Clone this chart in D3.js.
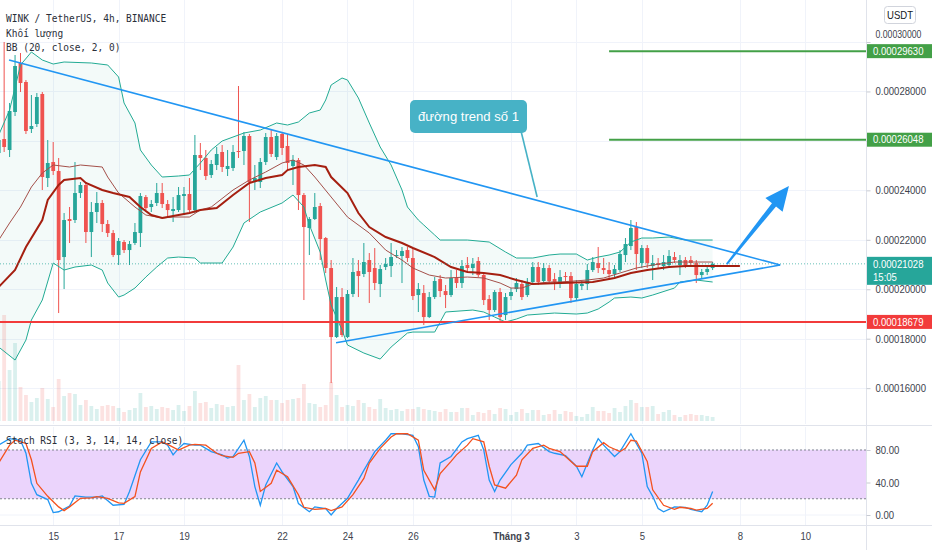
<!DOCTYPE html>
<html><head><meta charset="utf-8">
<script src="https://cdn.jsdelivr.net/npm/d3@7"></script>
<style>
html,body{margin:0;padding:0;background:#fff;}
svg{display:block;font-family:"Liberation Sans",Arial,sans-serif;}
</style></head><body>
<svg id="chart" width="932" height="550"></svg>
<script>
// ---------- DATA (prices in units of 1e-8 USDT) ----------
const UNIT = 1e-8;
const firstCandleUTC = "2021-02-13T08:00:00Z"; // 4h candles, index k = 0..131
const open = [25510,26076,25632,27169,29151,28382,26481,26683,27897,24499,
25146,24782,21303,22841,22800,23892,24216,22315,23124,23488,
22638,22274,21384,21910,21586,21870,22274,23730,23326,23488,
23892,23447,23164,23204,23771,23852,23204,25429,25308,24620,
25025,25551,24863,24903,25591,25591,26198,24378,24337,25146,
26157,25348,26279,25794,24984,25227,23811,22476,22841,23366,
22072,20858,18067,19685,18067,19807,20737,20616,21182,20858,
20211,20899,20939,21344,21344,21586,21263,19766,19847,18876,
19685,20413,19928,19766,20454,20252,20980,20858,21142,20575,
19604,19159,19888,18957,19726,20009,20211,19766,20292,20899,
20333,20858,20413,20211,20535,20535,19645,20130,20211,20777,
21061,20858,20777,20616,20777,21384,21748,22517,21061,21667,
20939,21061,20939,20980,21303,20980,21182,21182,21061,20575,
20697,20858];
const high = [26238,30000,27533,29474,29555,28463,27856,27937,27978,26036,
25955,25308,23083,23326,25146,24337,24297,23528,23933,23609,
22800,22395,22072,21991,21951,22679,23892,23811,23609,24297,
24297,23609,23730,24135,24135,24499,26238,25915,25632,25227,
25753,25834,25632,25834,28220,26359,26279,25025,25308,26319,
26440,26319,26359,26279,25429,25308,23892,22921,23892,23488,
22112,21182,20090,20049,19968,21263,21182,21870,21465,21667,
20980,21263,21870,21586,21708,21708,21667,20252,20171,19888,
20494,20575,20171,20777,20777,21182,21303,21263,21303,20656,
19766,19968,20049,19847,20049,20454,20373,20454,21101,21101,
21061,20980,20656,20777,20697,20697,20373,20333,21020,21303,
21708,21263,21101,20980,21586,22072,22800,22719,21789,21789,
21384,21263,21384,21586,21506,21384,21303,21344,21182,20818,
20980,21101];
const low = [25308,25551,25348,27007,27978,26279,26319,26562,24014,24135,
24620,19038,20009,21870,22679,23690,21870,21303,22679,22315,
22112,21303,20980,21465,20980,21789,21708,23204,23124,23366,
23285,22921,22719,23124,23002,23124,23083,24822,24418,24499,
24822,24742,24580,24782,25308,25025,22719,24014,24095,25025,
25348,25227,25429,24822,24216,23204,19564,21384,22800,21182,
20656,16207,18027,18067,18027,19685,19685,20494,19443,19968,
19685,20777,20494,21263,20252,21101,19564,19079,18553,18836,
19604,19685,19240,19685,20049,20049,20697,20575,20494,19362,
18755,19079,18674,18755,19564,19888,19564,19685,20211,20171,
20252,20252,19968,20049,20252,19443,19564,19968,19968,20697,
20656,20616,20373,20494,20697,21101,21586,20777,20858,20858,
20373,20858,20777,20899,21061,20575,20858,20939,20252,20454,
20575,20777];
const close = [26036,25753,27209,29029,28342,26400,26602,27775,24539,25106,
24782,21182,22800,22760,23892,24216,22315,23124,23488,22638,
22274,21384,21951,21586,21829,22315,23771,23285,23447,23892,
23447,23204,23245,23811,23852,23204,25429,25308,24580,25065,
25470,24944,24984,25551,25551,26198,24337,24499,25146,26157,
25470,26198,25713,25106,25227,23811,22517,22841,23326,22031,
20858,18067,19685,18148,19807,20697,20535,21101,20697,20252,
20818,21020,21303,21384,21546,21263,19726,20009,18876,19685,
20333,19928,19766,20454,20252,20939,20858,21020,20575,19564,
19159,19888,18876,19685,19888,20252,19685,20292,20899,20292,
20858,20333,20292,20494,20494,19645,20211,20211,20777,21101,
20858,20777,20616,20818,21425,21829,22476,21425,21667,21061,
21061,20980,21101,21344,21182,21182,20980,21061,20575,20697,
20818,21028];
// volume (relative units, millions)
const volume = [40,106,51,78,34,26,19,23,33,22,14,42,25,28,27,16,21,15,12,15,
16,15,13,9,11,13,28,14,15,12,14,13,11,16,10,15,30,18,19,13,
17,16,14,15,56,21,27,14,23,25,21,21,18,21,22,23,37,18,17,14,
16,39,26,14,16,15,21,18,14,12,22,13,11,12,10,12,12,14,12,11,
10,9,12,9,9,13,13,6,9,8,11,7,13,12,6,9,12,8,11,11,
6,7,11,7,10,9,5,4,7,14,10,10,8,13,9,15,21,18,14,14,
15,7,9,11,6,4,6,7,6,6,5,4];

// Bollinger Bands (20, close, 2) read at candle indices
const bbUpperIdx = [0,2,4,6,8,10,12,17,20,22,23,25,26,28,30,33,35,37,39,41,45,48,51,53,55,57,59,60,61,63,64,66,68,70,72,74,75,77,78,80,81,86,90,93,95,98,101,103,106,108,110,112,114,116,118,120,123,126,131];
const bbUpperVal = [26238,27249,29070,29596,29272,29110,29191,29151,29070,28584,27533,26724,25632,25025,24539,24580,24620,25106,25632,25995,26319,26440,26724,26643,26764,27128,27249,27654,28261,28544,28463,27735,26724,25753,25025,24014,23326,22800,22598,22193,21991,21991,21910,21506,21263,21263,21384,21425,21425,21182,21303,21384,21506,21910,22072,22072,22112,21991,21991];
const bbLowerIdx = [0,3,5,6,8,10,12,14,17,19,20,22,23,25,27,29,31,33,36,37,41,43,45,48,52,54,56,57,59,60,61,63,64,67,70,72,75,76,80,82,87,89,91,93,95,97,102,106,108,110,112,113,116,118,120,124,125,128,131];
const bbLowerVal = [17663,17137,17946,18755,19564,21061,20777,20899,20980,20777,20252,19685,19766,20049,20494,20899,21263,21303,21263,21061,21061,21708,22679,23124,23488,23811,23326,22600,21500,20373,19362,18350,17744,17420,17177,17663,18229,18269,18269,19079,19159,19079,18876,18674,18795,18957,19038,18998,19038,19200,19483,19645,19685,19645,19766,20049,20292,20373,20292];
const bbMidIdx = [0,2,4,6,8,10,13,15,19,20,22,25,27,30,32,35,37,39,43,46,49,52,54,56,58,61,64,68,71,74,76,79,82,86,89,92,94,96,98,101,103,108,111,114,117,120,124,126,131];
const bbMidVal = [21991,22679,23326,24135,24701,25025,24944,25025,24944,24539,23892,23326,23002,22881,22921,22921,23204,23326,24014,24418,24742,25106,25227,25025,24539,23730,22921,22274,21586,21182,20858,20575,20454,20494,20454,20252,20049,20049,20211,20292,20292,20373,20454,20656,20858,20980,21101,21101,21101];
// thick moving average line
const maIdx = [0,3,5,8,9,11,12,15,16,19,21,24,26,28,30,33,35,37,40,43,46,49,52,53,55,58,60,61,64,66,68,71,74,76,80,83,86,89,92,95,98,103,109,113,116,119,123,126,131,136];
const maVal = [20090,20777,21708,22800,23609,24216,24418,24499,24297,24014,23892,23730,23326,23002,22881,23002,23083,23204,23285,23811,24297,24499,24620,24822,24944,25025,24944,24539,23892,23083,22517,22112,21870,21667,21303,20899,20697,20656,20575,20373,20211,20252,20292,20454,20656,20777,20899,20939,20939,20939];

// Stoch RSI (3,3,14,14)
const stochKIdx = [0,2,4,5,6,7,9,10,11,13,14,16,18,19,21,23,24,26,28,30,31,32,33,34,36,37,39,41,42,43,45,46,47,48,49,51,52,54,55,57,58,60,61,62,64,66,67,69,71,72,74,76,77,78,79,80,81,83,85,86,88,89,90,91,92,94,96,97,99,101,102,104,106,107,109,110,111,113,114,116,118,119,120,121,122,124,126,127,129,130,131];
const stochKVal = [86,94,92,76,39,25,19,3,4,11,23.5,22,22,23.5,12,13,29,68,90,90,86,74,82,88,86,86,78,74,70,72,92,72,35,12,37,64,53,35,14,4,10,8,0,8,20.5,43,55,78,92,100,100,98,84,43,23,22,64,72,90,94,98,80,43,29,43,62,76,86,88,78,76,73,60,47,80,94,86,72,78,100,76,35,23,8,4,10,9.5,7,4,12,29];
const stochDIdx = [0,2,3,5,6,7,9,11,12,13,15,17,18,20,22,23,25,26,28,30,31,33,35,36,38,40,41,43,44,46,47,48,50,51,53,55,56,58,60,61,63,65,67,68,70,72,73,75,77,78,80,81,83,84,86,87,89,90,91,93,95,96,98,100,101,103,104,106,108,109,111,112,114,115,116,117,119,120,122,124,125,127,128,130,131];
const stochDVal = [64,86,92,88,68,39,23,10,5.4,10,20.5,21,22.6,20.5,15,14.4,22.6,53,82,90,87,80,86,87,86,76,73,71,76,78,64,29,39,55,47,25,9.5,7,8,5.4,10,25,45,64,82,96,100,100,92,55,31,51,66,74,86,94,90,60,37,33,49,68,82,86,82,78,72,60,60,78,89,84,78,82,92,91,66,31,12,7,9.5,8,6,8,14.4];

// price axis ticks, time ticks
const priceTicks = [16000,18000,20000,22000,24000,26000,28000,30000];
const timeTickDates = ["2021-02-15","2021-02-17","2021-02-19","2021-02-22","2021-02-24","2021-02-26","2021-03-01","2021-03-03","2021-03-05","2021-03-08","2021-03-10"];
const timeTickLabels = ["15","17","19","22","24","26","Tháng 3","3","5","8","10"];
const stochTicks = [0,40,80];

// drawings (candle index, price)
const trendUpperIdx = [1.9, 143.4], trendUpperVal = [29272, 20980];
const trendLowerIdx = [61.9, 143.4], trendLowerVal = [17837, 20980];
const levelRed = 18679;
const levelGreen = [29630, 26048], levelGreenStartIdx = 112;
const arrowIdx = [133.6, 145.0], arrowVal = [21020, 24176];
const calloutIdx = [75.47, 98.8], calloutVal = [27654, 23730];
const calloutText = "đường trend số 1";
const lastPrice = 21028, countdown = "15:05";

// ---------- DRAW ----------
const H4 = 4*3600*1000, T0 = Date.parse(firstCandleUTC);
const tk = k => new Date(T0 + k*H4);
const PR = 866;
const x = d3.scaleUtc().domain([tk(0.2385), tk(159.14)]).range([0, PR]);
const y = d3.scaleLinear().domain([16000*UNIT, 30000*UNIT]).range([388.15, 42]);
const yv = d3.scaleLinear().domain([0, d3.max(volume)]).range([421, 315]);
const ys = d3.scaleLinear().domain([0, 100]).range([515, 433.75]);
const xk = k => x(tk(k));
const yp = p => y(p*UNIT);
const UP="#26a69a", DN="#ef5350";
const SX = 0.87;

const svg = d3.select("#chart");
svg.append("rect").attr("width",932).attr("height",550).attr("fill","#fff");
const defs = svg.append("defs");
defs.append("clipPath").attr("id","cm").append("rect").attr("x",0).attr("y",0).attr("width",PR).attr("height",424);
defs.append("clipPath").attr("id","cs").append("rect").attr("x",0).attr("y",427).attr("width",PR).attr("height",98);

// grid
const grid = svg.append("g").attr("stroke","#f0f3fa").attr("stroke-width",1);
priceTicks.forEach(p=>grid.append("line").attr("x1",0).attr("x2",PR).attr("y1",Math.round(yp(p))+0.5).attr("y2",Math.round(yp(p))+0.5));
timeTickDates.forEach(d=>{const xx=Math.round(x(new Date(d+"T00:00:00Z")))+0.5;
  grid.append("line").attr("x1",xx).attr("x2",xx).attr("y1",0).attr("y2",424);
  grid.append("line").attr("x1",xx).attr("x2",xx).attr("y1",427).attr("y2",525);});
stochTicks.forEach(v=>grid.append("line").attr("x1",0).attr("x2",PR).attr("y1",ys(v)).attr("y2",ys(v)));

const main = svg.append("g").attr("clip-path","url(#cm)");

// BB fill
const upPts = bbUpperIdx.map((k,i)=>[xk(k), yp(bbUpperVal[i])]);
const loPts = bbLowerIdx.map((k,i)=>[xk(k), yp(bbLowerVal[i])]);
main.append("path").attr("d", d3.line()(upPts.concat(loPts.slice().reverse()))+"Z")
  .attr("fill","rgba(34,171,148,0.055)");

// volume
main.append("g").selectAll("rect").data(volume).join("rect")
  .attr("x",(d,k)=>xk(k)-1.9).attr("width",3.8)
  .attr("y",d=>yv(d)).attr("height",d=>421-yv(d))
  .attr("fill",(d,k)=>close[k]>=open[k]?"rgba(38,166,154,0.17)":"rgba(239,83,80,0.17)");

// candles
const cg = main.append("g");
open.forEach((o,k)=>{
  const c=close[k], col=c>=o?UP:DN, cx=xk(k);
  cg.append("line").attr("x1",cx).attr("x2",cx).attr("y1",yp(high[k])).attr("y2",yp(low[k])).attr("stroke",col).attr("stroke-width",1);
  const top=Math.min(yp(o),yp(c)), h=Math.max(1,Math.abs(yp(o)-yp(c)));
  cg.append("rect").attr("x",cx-1.9).attr("width",3.8).attr("y",top).attr("height",h).attr("fill",col);
});

// indicator lines
const ln = d3.line();
main.append("path").attr("d",ln(upPts)).attr("fill","none").attr("stroke","#22ab94").attr("stroke-width",1);
main.append("path").attr("d",ln(loPts)).attr("fill","none").attr("stroke","#22ab94").attr("stroke-width",1);
main.append("path").attr("d",ln(bbMidIdx.map((k,i)=>[xk(k),yp(bbMidVal[i])]))).attr("fill","none").attr("stroke","#a4504a").attr("stroke-width",1);
main.append("path").attr("d",ln(maIdx.map((k,i)=>[xk(k),yp(maVal[i])]))).attr("fill","none").attr("stroke","#a51f10").attr("stroke-width",2);

// current price dotted line
main.append("line").attr("x1",0).attr("x2",PR).attr("y1",yp(lastPrice)).attr("y2",yp(lastPrice))
  .attr("stroke",UP).attr("stroke-dasharray","1,2").attr("stroke-opacity",0.7);

// horizontal levels
main.append("line").attr("x1",0).attr("x2",PR).attr("y1",yp(levelRed)).attr("y2",yp(levelRed)).attr("stroke","#f23b3b").attr("stroke-width",2);
levelGreen.forEach(p=>main.append("line").attr("x1",xk(levelGreenStartIdx)).attr("x2",PR).attr("y1",yp(p)).attr("y2",yp(p)).attr("stroke","#43a047").attr("stroke-width",2));

// trend lines
main.append("line").attr("x1",xk(trendUpperIdx[0])).attr("y1",yp(trendUpperVal[0])).attr("x2",xk(trendUpperIdx[1])).attr("y2",yp(trendUpperVal[1])).attr("stroke","#2196f3").attr("stroke-width",1.6);
main.append("line").attr("x1",xk(trendLowerIdx[0])).attr("y1",yp(trendLowerVal[0])).attr("x2",xk(trendLowerIdx[1])).attr("y2",yp(trendLowerVal[1])).attr("stroke","#2196f3").attr("stroke-width",1.6);

// arrow
(function(){
  const ax=xk(arrowIdx[0]), ay=yp(arrowVal[0]), tx=xk(arrowIdx[1]), ty=yp(arrowVal[1]);
  const dx=tx-ax, dy=ty-ay, L=Math.hypot(dx,dy), ux=dx/L, uy=dy/L, nx=-uy, ny=ux;
  const bx=tx-24*ux, by=ty-24*uy;
  const pts=[[ax+1*nx,ay+1*ny],[bx+2.6*nx,by+2.6*ny],[bx+11*nx,by+11*ny],[tx,ty],[bx-11*nx,by-11*ny],[bx-2.6*nx,by-2.6*ny],[ax-1*nx,ay-1*ny]];
  main.append("path").attr("d",d3.line()(pts)+"Z").attr("fill","#2196f3");
})();

// callout
(function(){
  const bx=xk(calloutIdx[0]), by=yp(calloutVal[0]), px=xk(calloutIdx[1]), py=yp(calloutVal[1]);
  const col="#47b2c6";
  main.append("line").attr("x1",bx+111).attr("y1",by+31).attr("x2",px).attr("y2",py).attr("stroke",col).attr("stroke-width",1.6);
  main.append("rect").attr("x",bx).attr("y",by).attr("width",117).attr("height",33).attr("rx",5).attr("fill",col);
  main.append("text").attr("x",bx+58.5).attr("y",by+17).attr("text-anchor","middle").attr("dominant-baseline","central")
    .attr("fill","#fff").attr("font-size",12).attr("textLength",101).attr("lengthAdjust","spacingAndGlyphs").text(calloutText);
})();

// ---------- STOCH RSI PANE ----------
const sp = svg.append("g").attr("clip-path","url(#cs)");
sp.append("rect").attr("x",0).attr("width",PR).attr("y",ys(80)).attr("height",ys(20)-ys(80)).attr("fill","#ebd4fc");
[80,20].forEach(v=>sp.append("line").attr("x1",0).attr("x2",PR).attr("y1",ys(v)).attr("y2",ys(v)).attr("stroke","#80838e").attr("stroke-dasharray","2,2").attr("stroke-width",1));
sp.append("path").attr("d",ln(stochKIdx.map((k,i)=>[xk(k),ys(stochKVal[i])]))).attr("fill","none").attr("stroke","#2196f3").attr("stroke-width",1.3);
sp.append("path").attr("d",ln(stochDIdx.map((k,i)=>[xk(k),ys(stochDVal[i])]))).attr("fill","none").attr("stroke","#f4511e").attr("stroke-width",1.3);

// ---------- AXES ----------
const border="#e0e3eb";
svg.append("line").attr("x1",PR+0.5).attr("x2",PR+0.5).attr("y1",0).attr("y2",550).attr("stroke",border);
svg.append("line").attr("x1",0).attr("x2",932).attr("y1",425.5).attr("y2",425.5).attr("stroke",border);
svg.append("line").attr("x1",0).attr("x2",932).attr("y1",525.5).attr("y2",525.5).attr("stroke",border);

const yAxis = d3.axisRight(y).tickValues(priceTicks.map(p=>p*UNIT)).tickFormat(d=>d.toFixed(8)).tickSize(4).tickPadding(4);
const gy = svg.append("g").attr("transform",`translate(${PR+0.5},0)`).call(yAxis);
const gs = svg.append("g").attr("transform",`translate(${PR+0.5},0)`).call(d3.axisRight(ys).tickValues(stochTicks).tickFormat(d=>d.toFixed(2)).tickSize(4).tickPadding(4));
[gy,gs].forEach(g=>{
  g.select(".domain").remove();
  g.selectAll(".tick line").attr("stroke","#c8cbd3");
  g.selectAll(".tick text").attr("fill","#40434d").attr("font-size",11).attr("font-family","Liberation Sans, Arial, sans-serif")
    .attr("x",9/SX).attr("transform",`scale(${SX},1)`);
});
// tick labels hidden behind axis price boxes in the reference
const boxed = levelGreen.concat([levelRed, lastPrice]);
gy.selectAll(".tick").each(function(d){
  const p=Math.round(d/UNIT), py=yp(p), t=d3.select(this).select("text");
  if (p===30000) { t.attr("dy","-0.02em").attr("y",-4.5).attr("font-size",10); }
  else if (boxed.some(b=>Math.abs(yp(b)-py)<9)) t.remove();
});

const xAxis = d3.axisBottom(x).tickValues(timeTickDates.map(d=>new Date(d+"T00:00:00Z"))).tickFormat((d,i)=>timeTickLabels[i]).tickSize(0).tickPadding(6);
const gx = svg.append("g").attr("transform","translate(0,526)").call(xAxis);
gx.select(".domain").remove();
gx.selectAll(".tick text").attr("fill","#40434d").attr("font-size",11).attr("font-family","Liberation Sans, Arial, sans-serif")
  .attr("transform",`scale(${SX},1)`).attr("x",0)
  .attr("font-weight",(d,i)=>timeTickLabels[i].length>2?"bold":"normal");

// price label boxes
function priceBox(p, bg, lines){
  const cy=yp(p), h=lines.length>1?28:14;
  const top=cy-7;
  svg.append("rect").attr("x",PR+1).attr("y",top).attr("width",932-PR-1).attr("height",h).attr("fill",bg);
  lines.forEach((s,i)=>svg.append("text").attr("x",(PR+7)/SX).attr("y",cy+i*13.5).attr("dominant-baseline","central")
    .attr("transform",`scale(${SX},1)`).attr("fill","#fff").attr("font-size",11).text(s));
}
levelGreen.forEach(p=>priceBox(p,"#43a047",[(p*UNIT).toFixed(8)]));
priceBox(lastPrice,UP,[(lastPrice*UNIT).toFixed(8),countdown]);
priceBox(levelRed,"#f23b3b",[(levelRed*UNIT).toFixed(8)]);

// USDT box
svg.append("rect").attr("x",884.5).attr("y",6.5).attr("width",31).attr("height",17).attr("rx",3).attr("fill","#fff").attr("stroke","#d1d4dc");
svg.append("text").attr("x",900/SX).attr("y",15.5).attr("text-anchor","middle").attr("dominant-baseline","central")
  .attr("transform",`scale(${SX},1)`).attr("font-size",11).attr("fill","#131722").text("USDT");

// legends
const legend = [["WINK / TetherUS, 4h, BINANCE",18],["Khối lượng",33],["BB (20, close, 2, 0)",47],["Stoch RSI (3, 3, 14, 14, close)",440]];
legend.forEach(([s,yy])=>svg.append("text").attr("x",6).attr("y",yy).attr("dominant-baseline","central")
  .attr("font-family","DejaVu Sans Mono, monospace").attr("font-size",11).attr("fill","#2a2e39")
  .attr("textLength",s.length*5.72).attr("lengthAdjust","spacingAndGlyphs").text(s));
</script>
</body></html>
